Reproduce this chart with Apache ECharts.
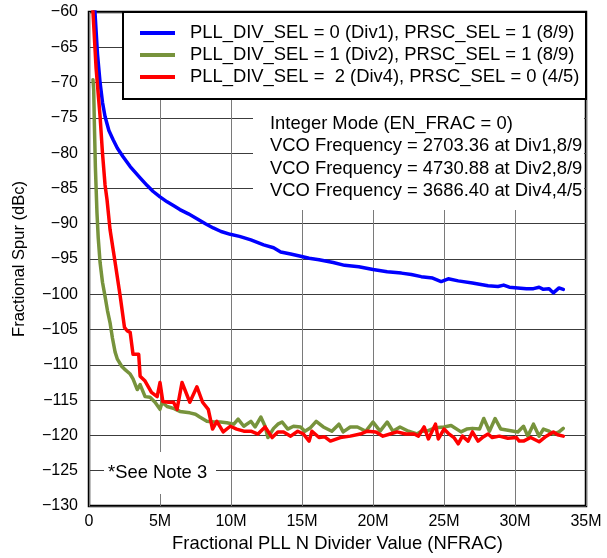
<!DOCTYPE html>
<html>
<head>
<meta charset="utf-8">
<script src="https://cdn.jsdelivr.net/npm/echarts@6/dist/echarts.min.js"></script>
<style>html,body{margin:0;padding:0;background:#fff}#c{width:607px;height:558px}</style>
</head>
<body>
<div id="c"></div>
<script>
// ---- data (x in millions of NFRAC, y in dBc) ----
const seriesNames = [
  "PLL_DIV_SEL = 0 (Div1), PRSC_SEL = 1 (8/9)",
  "PLL_DIV_SEL = 1 (Div2), PRSC_SEL = 1 (8/9)",
  "PLL_DIV_SEL =  2 (Div4), PRSC_SEL = 0 (4/5)"
];
const xTicks = [0, 5, 10, 15, 20, 25, 30, 35];
const yTicks = [-130, -125, -120, -115, -110, -105, -100, -95, -90, -85, -80, -75, -70, -65, -60];

const blueX = [0.35,0.42,0.6,0.78,0.95,1.13,1.4,1.7,2.0,2.4,2.9,3.6,4.1,4.5,5.0,5.5,6.0,6.4,7.0,7.6,8.2,8.75,9.3,9.95,10.6,11.4,12.3,13.0,13.5,14.2,14.9,15.5,16.2,17.2,18.0,19.0,20.0,21.0,22.0,22.7,23.4,24.2,24.8,25.3,26.0,27.0,28.1,28.8,29.2,29.6,30.2,30.8,31.3,31.7,32.0,32.4,32.7,33.1,33.4];
const blueY = [-58,-60,-66,-70,-72.8,-74.8,-76.8,-78.1,-79.3,-80.5,-81.9,-83.5,-84.6,-85.4,-86.2,-86.9,-87.5,-88.0,-88.6,-89.3,-90.0,-90.6,-91.1,-91.5,-91.8,-92.3,-93.0,-93.4,-94.0,-94.3,-94.6,-94.9,-95.1,-95.5,-95.9,-96.1,-96.5,-96.8,-97.0,-97.2,-97.5,-97.7,-98.2,-97.8,-98.1,-98.4,-98.8,-98.9,-98.7,-99.0,-99.1,-99.2,-99.2,-99.0,-99.3,-99.2,-99.8,-99.1,-99.3];

const greenX = [0.28,0.33,0.38,0.45,0.56,0.65,0.78,0.95,1.13,1.3,1.48,1.65,1.84,2.0,2.3,2.5,2.9,3.1,3.4,3.6,3.95,4.3,4.65,5.0,5.15,5.5,6.0,6.4,7.1,7.5,7.8,8.3,8.8,9.25,9.7,10.2,10.5,10.9,11.4,11.7,12.1,12.4,12.6,13.0,13.3,13.6,14.0,14.4,14.9,15.2,15.6,16.0,16.5,17.1,17.6,17.9,18.4,18.9,19.5,20.0,20.5,21.0,21.4,21.9,22.5,23.1,23.4,23.8,24.4,25.0,25.5,26.2,26.6,27.0,27.5,27.8,28.2,28.6,29.0,29.6,30.2,30.6,30.9,31.3,31.7,32.0,32.4,32.7,33.1,33.4];
const greenY = [-69.6,-71,-76,-82,-88.4,-92,-95.5,-98.3,-100.3,-102.3,-104,-106.2,-108.2,-109.2,-110.2,-110.6,-111.3,-112,-113.5,-112.8,-114.5,-114.6,-115.3,-116.3,-115.3,-115.9,-116.2,-116.6,-116.8,-117.0,-117.4,-118,-118.1,-118.1,-118.2,-118.4,-117.7,-118.7,-118,-118.8,-117.4,-118.7,-120.3,-119.0,-118.4,-118.1,-119.1,-118.7,-118.8,-119.4,-118.9,-118,-118.8,-119.4,-118.4,-119.5,-118.8,-118.8,-119.4,-118.1,-119.4,-118.1,-119.4,-118.8,-119.4,-119.8,-119.4,-119.4,-118.9,-118.8,-118.6,-119.5,-119.1,-119,-119.1,-117.6,-119.4,-117.6,-119.1,-119.3,-119.5,-118.7,-120.1,-118.4,-120.1,-119.1,-119.4,-119.8,-119.5,-119.0];

const redX = [0.25,0.28,0.5,0.78,0.95,1.13,1.27,1.48,1.84,2.2,2.5,2.7,2.9,3.1,3.5,3.6,3.95,4.4,4.8,5.0,5.2,5.6,5.95,6.2,6.55,7.1,7.6,8.0,8.4,8.7,9.0,9.45,9.95,10.4,10.9,11.4,11.9,12.4,12.9,13.3,13.7,14.2,14.7,15.1,15.5,15.7,16.2,16.6,17.0,17.7,18.4,19.1,19.6,20.2,20.7,21.2,21.7,22.3,22.9,23.2,23.6,23.9,24.4,24.6,25.0,25.3,25.7,26.0,26.3,26.7,27.0,27.4,27.7,28.1,28.4,28.9,29.5,30.1,30.3,30.6,31.1,31.7,32.2,32.7,33.0,33.4];
const redY = [-58,-60,-68,-74.8,-80,-84.5,-86.6,-90.8,-95.5,-100.3,-104.7,-105.2,-105.4,-108.5,-108.5,-111.6,-112.3,-113.9,-114.5,-112.5,-115.2,-115.3,-115.3,-116.3,-112.5,-115.3,-113.1,-115.3,-116.3,-119.1,-118,-119.5,-118.7,-119.1,-119.4,-119.4,-119.8,-118.8,-120.3,-119.5,-119.5,-120.1,-119.4,-119.8,-120.8,-119.4,-120.3,-120.2,-120.8,-120.3,-120.1,-119.8,-119.4,-119.5,-120.1,-119.8,-119.5,-119.8,-119.8,-120.1,-118.8,-120.5,-118.4,-120.5,-119.1,-119.7,-120.3,-121.2,-120.1,-120.8,-119.5,-120.8,-120.3,-119.8,-120.3,-120.1,-120.4,-120.3,-120.8,-120.8,-120.3,-120.9,-120.1,-119.5,-119.9,-120.1];

const noteLines = [
  "Integer Mode (EN_FRAC = 0)",
  "VCO Frequency = 2703.36 at Div1,8/9",
  "VCO Frequency = 4730.88 at Div2,8/9",
  "VCO Frequency = 3686.40 at Div4,4/5"
];
const footNote = "*See Note 3";
const xTitle = "Fractional PLL N Divider Value (NFRAC)";
const yTitle = "Fractional Spur (dBc)";

// ---- build ----
const zip = (xs, ys) => xs.map((x, i) => [x, ys[i]]);
const FONT = "Liberation Sans, Arial, sans-serif";
const colors = ["#0000FF", "#77933C", "#FF0000"];
const chart = echarts.init(document.getElementById('c'), null, {renderer: 'canvas'});

const mkSeries = (name, data, color, z) => ({
  name, type: 'line', data, showSymbol: false, symbol: 'none', smooth: false,
  lineStyle: {color, width: 3.5, join: 'round', cap: 'round'}, itemStyle: {color},
  z, animation: false, clip: true
});

chart.setOption({
  animation: false,
  backgroundColor: '#fff',
  textStyle: {fontFamily: FONT, color: '#000'},
  grid: {left: 89, right: 21, top: 12, bottom: 51, show: true, borderColor: '#000', borderWidth: 2.5, backgroundColor: '#fff'},
  xAxis: {
    type: 'value', min: xTicks[0], max: xTicks[xTicks.length - 1], interval: 5,
    axisLine: {show: false}, axisTick: {show: false},
    splitLine: {show: true, lineStyle: {color: '#7a7a7a', width: 1}},
    axisLabel: {fontSize: 16, color: '#000', fontFamily: FONT, margin: 8,
      formatter: v => v === 0 ? '0' : v + 'M'},
    name: xTitle, nameLocation: 'middle', nameGap: 29,
    nameTextStyle: {fontSize: 18.4, color: '#000', fontFamily: FONT}
  },
  yAxis: {
    type: 'value', min: yTicks[0], max: yTicks[yTicks.length - 1], interval: 5,
    axisLine: {show: false}, axisTick: {show: false},
    splitLine: {show: true, lineStyle: {color: '#3c3c3c', width: 1}},
    axisLabel: {fontSize: 16, color: '#000', fontFamily: FONT, margin: 11,
      formatter: v => (v < 0 ? '\u2212' : '') + Math.abs(v)},
    name: yTitle, nameLocation: 'middle', nameGap: 61, nameRotate: 90,
    nameTextStyle: {fontSize: 16.5, color: '#000', fontFamily: FONT}
  },
  legend: {
    show: true, orient: 'vertical', left: 140, top: 22, itemGap: 0, padding: 0,
    itemWidth: 35, itemHeight: 4, icon: 'rect', z: 20,
    data: seriesNames,
    textStyle: {fontSize: 18.4, color: '#000', fontFamily: FONT, lineHeight: 22, padding: [0, 0, 0, 10]},
    selectedMode: false
  },
  graphic: [
    {type: 'rect', z: 15, shape: {x: 123, y: 12, width: 463, height: 87},
      style: {fill: '#fff', stroke: '#000', lineWidth: 2}},
    {type: 'rect', z: 15, shape: {x: 253, y: 100, width: 331, height: 110},
      style: {fill: '#fff', stroke: null}},
    {type: 'rect', z: 15, shape: {x: 104, y: 452, width: 112, height: 42},
      style: {fill: '#fff', stroke: null}},
    ...noteLines.map((t, i) => ({type: 'text', z: 16, left: 270, top: 115 + i * 22.3,
      style: {text: t, font: '18.4px ' + FONT, fill: '#000'}})),
    {type: 'text', z: 16, left: 108, top: 464, style: {text: footNote, font: '18.4px ' + FONT, fill: '#000'}}
  ],
  series: [
    mkSeries(seriesNames[0], zip(blueX, blueY), colors[0], 3),
    mkSeries(seriesNames[1], zip(greenX, greenY), colors[1], 3),
    mkSeries(seriesNames[2], zip(redX, redY), colors[2], 4)
  ]
});
</script>
</body>
</html>
